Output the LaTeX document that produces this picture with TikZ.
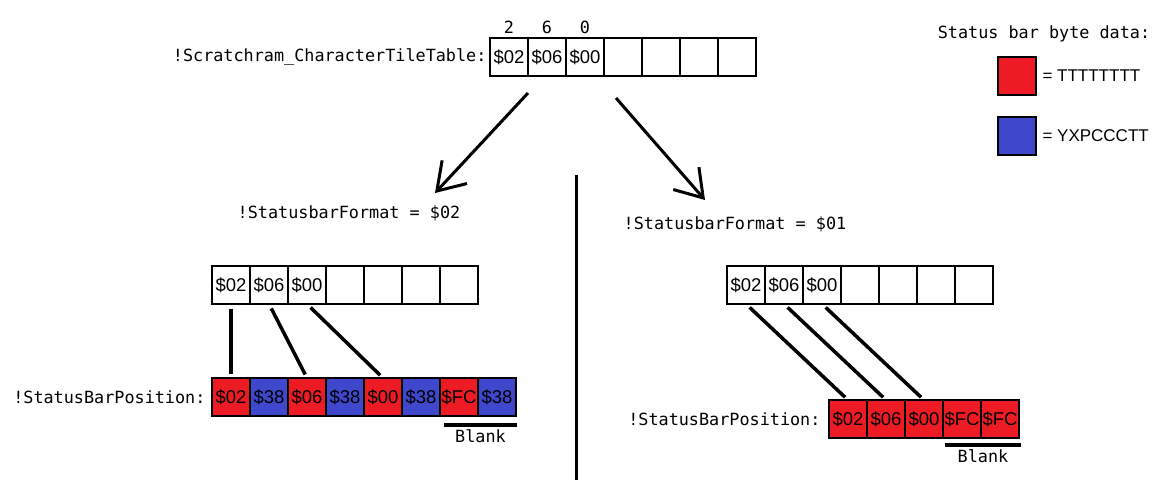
\documentclass[tikz,border=0pt]{standalone}
\usepackage{fontspec}
\setmainfont{Liberation Sans}
\setmonofont{DejaVu Sans Mono}
\usetikzlibrary{arrows.meta}
\usetikzlibrary{positioning}
\definecolor{tilered}{RGB}{237,28,36}
\definecolor{propblue}{RGB}{63,72,204}

\begin{document}
\begin{tikzpicture}
	[x=1pt,y=-1pt,
	 every node/.style={font=\fontsize{17}{20}\selectfont},
	 cell/.style={draw,line width=1.2pt,minimum width=38pt,minimum height=38pt,inner sep=0pt,outer sep=0pt,font=\fontsize{18.5}{22}\selectfont},
	 tilebyte/.style={cell,fill=tilered},
	 propbyte/.style={cell,fill=propblue},
	 symname/.style={font=\ttfamily\fontsize{16.8}{20}\selectfont},
	 link/.style={line width=3.5pt,shorten <=5pt,shorten >=4pt},
	 bigarrow/.style={line width=3pt,-{Straight Barb[length=26pt,width=34pt,line width=3pt]}}]
	\useasboundingbox (0,0) rectangle (1171,480);

	\foreach \t [count=\i] in {\$02,\$06,\$00,{},{},{},{}}
		\node[cell] (t\i) at (471+38*\i,57) {\t};
	\node[symname, left=0pt of t1] {!Scratchram\_CharacterTileTable:};
	\node[symname, above=1pt of t1] {2};
	\node[symname, above=1pt of t2] {6};
	\node[symname, above=1pt of t3] {0};

	\node[symname] (legend) at (1044,34) {Status bar byte data:};
	\node[tilebyte] (keyT) at (1017,76) {};
	\node[propbyte] (keyP) at (1017,136) {};
	\node[right=3pt of keyT] {= TTTTTTTT};
	\node[right=3pt of keyP] {= YXPCCCTT};

	\node[symname] (fmtL) at (349,213) {!StatusbarFormat = \$02};
	\node[symname] (fmtR) at (735,224) {!StatusbarFormat = \$01};
	\coordinate (tipL) at (435,193);
	\coordinate (tipR) at (705,200);
	\draw[bigarrow] ([yshift=-17pt]t1.south east) -- (tipL);
	\draw[bigarrow] ([xshift=-7pt,yshift=-22pt]t4.south) -- (tipR);

	\draw[line width=3pt] (576,175) -- (576,480);

	\foreach \t [count=\i] in {\$02,\$06,\$00,{},{},{},{}}
		\node[cell] (m\i) at (193+38*\i,285) {\t};
	\foreach \t/\s [count=\i] in {\$02/tilebyte,\$38/propbyte,\$06/tilebyte,\$38/propbyte,\$00/tilebyte,\$38/propbyte,\$FC/tilebyte,\$38/propbyte}
		\node[\s] (p\i) at (193+38*\i,397) {\t};
	\node[symname, left=3pt of p1] {!StatusBarPosition:};
	\draw[link] (m1.south) -- (p1.north);
	\draw[link] (m2.south) -- (p3.north);
	\draw[link] (m3.south) -- (p5.north);
	\draw[line width=3.5pt] ([xshift=4pt,yshift=-9pt]p7.south west) -- ([xshift=1pt,yshift=-9pt]p8.south east)
		node[symname, midway, below=0pt] {Blank};

	\foreach \t [count=\i] in {\$02,\$06,\$00,{},{},{},{}}
		\node[cell] (r\i) at (708+38*\i,285) {\t};
	\foreach \t [count=\i] in {\$02,\$06,\$00,\$FC,\$FC}
		\node[tilebyte] (q\i) at (810+38*\i,419) {\t};
	\node[symname, left=5pt of q1] {!StatusBarPosition:};
	\draw[link] (r1.south) -- (q1.north);
	\draw[link] (r2.south) -- (q2.north);
	\draw[link] (r3.south) -- (q3.north);
	\draw[line width=3.5pt] ([xshift=2pt,yshift=-7pt]q4.south west) -- ([xshift=2pt,yshift=-7pt]q5.south east)
		node[symname, midway, below=0pt] {Blank};
\end{tikzpicture}
\end{document}
